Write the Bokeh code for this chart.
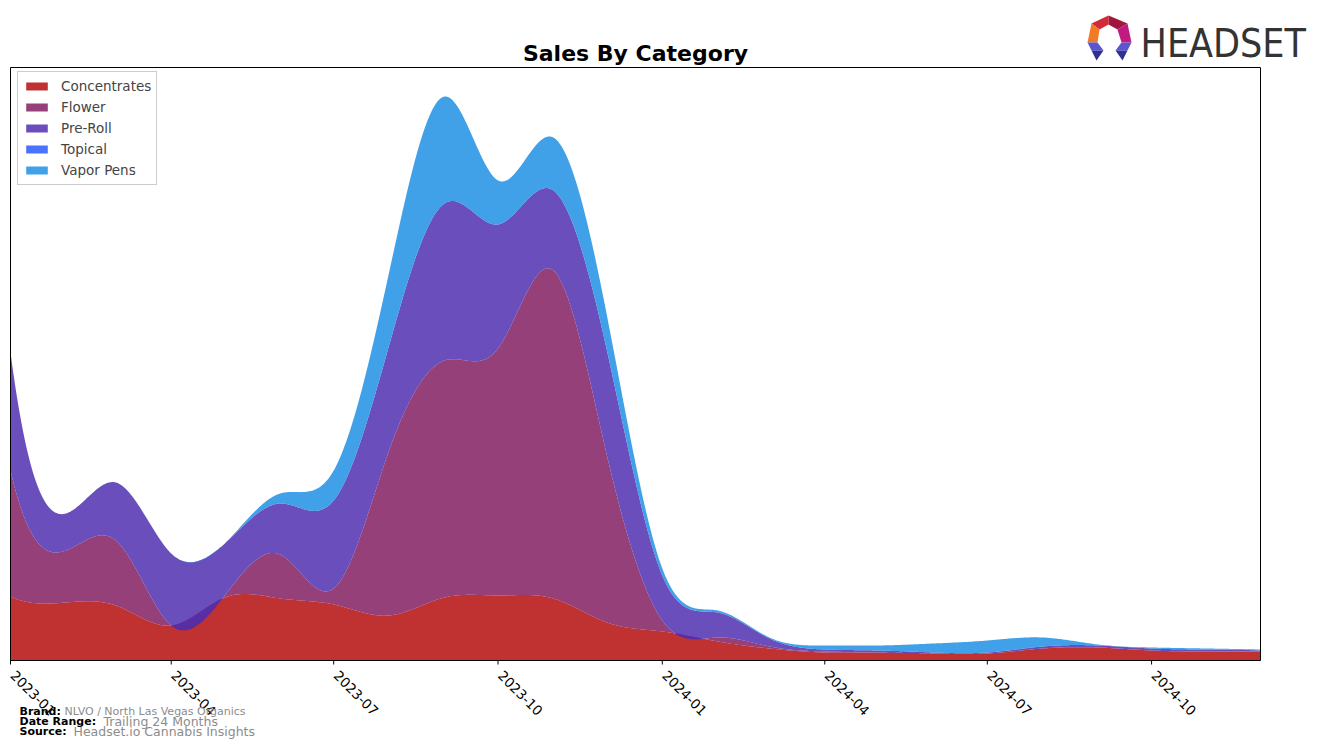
import numpy as np
import pandas as pd
from bokeh.plotting import figure
from bokeh.models import Range1d, Label, PolyAnnotation, Legend, BoxAnnotation, ColumnDataSource
from bokeh.core.properties import value
from bokeh.embed import file_html
from bokeh.resources import INLINE

# ---------------- data ----------------
months = ["2023-01", "2023-02", "2023-03", "2023-04", "2023-05", "2023-06",
          "2023-07", "2023-08", "2023-09", "2023-10", "2023-11", "2023-12",
          "2024-01", "2024-02", "2024-03", "2024-04", "2024-05", "2024-06",
          "2024-07", "2024-08", "2024-09", "2024-10", "2024-11", "2024-12"]
concentrates = [64, 58, 55, 35, 63, 62, 56, 45, 63, 65, 62, 38,
                29, 19, 12, 8, 8, 7, 7, 12, 13, 10, 9, 9]
flower = [126, 52, 65, 0, 2, 44, 16, 165, 237, 247, 328, 167,
          11, 4, 2, 1, 0, 0, 0, 0, 0, 0, 0, 0]
pre_roll = [118, 37, 58, 72, 52, 51, 88, 105, 157, 124, 80, 105,
            45, 25, 8, 2, 2, 1, 1, 2, 2, 2, 2, 1]
topical = [0, 0, 0, 0, 0, 0, 0, 0, 0, 0, 0, 0,
           0, 0, 0, 0, 0, 0, 0, 0, 0, 0, 0, 0]
vapor_pens = [0, 0, 0, 0, 0, 10, 30, 73, 107, 44, 53, 35,
              7, 2, 1, 4, 5, 9, 12, 9, 1, 1, 1, 1]
categories = ["Concentrates", "Flower", "Pre-Roll", "Topical", "Vapor Pens"]
series = [concentrates, flower, pre_roll, topical, vapor_pens]
tick_labels = ["2023-01", "2023-04", "2023-07", "2023-10",
               "2024-01", "2024-04", "2024-07", "2024-10"]

# ---------------- styles ----------------
fill_alpha = 0.85
observed = [(192, 50, 50), (150, 64, 120), (106, 78, 188), (74, 114, 252), (64, 160, 232)]


def base_color(rgb, a):
    return "#%02x%02x%02x" % tuple(int(round(max(0, min(255, (c - (1 - a) * 255) / a)))) for c in rgb)


colors = [base_color(c, fill_alpha) for c in observed]

W, H = 1324, 748
PL, PR, PT, PB = 10, 1260, 67, 660       # plot box on the canvas (pixels)
Y_TOP = 593                              # value shown at the top of the box
LBL_SHIFT = 5                            # label baseline correction (pixels)


def to_ms(s):
    return float((pd.Timestamp(s) - pd.Timestamp("1970-01-01")) // pd.Timedelta(milliseconds=1))


def spline_notaknot(x, y, xs):
    """Cubic spline (not-a-knot) through (x, y), evaluated at xs (used only for drawing)."""
    x = np.asarray(x, float)
    y = np.asarray(y, float)
    n = len(x)
    h = np.diff(x)
    A = np.zeros((n, n))
    b = np.zeros(n)
    A[0, 0], A[0, 1], A[0, 2] = -h[1], h[0] + h[1], -h[0]
    A[-1, -3], A[-1, -2], A[-1, -1] = -h[-1], h[-2] + h[-1], -h[-2]
    for i in range(1, n - 1):
        A[i, i - 1] = h[i - 1]
        A[i, i] = 2 * (h[i - 1] + h[i])
        A[i, i + 1] = h[i]
        b[i] = 6 * ((y[i + 1] - y[i]) / h[i] - (y[i] - y[i - 1]) / h[i - 1])
    M = np.linalg.solve(A, b)
    idx = np.clip(np.searchsorted(x, xs) - 1, 0, n - 2)
    x0, x1 = x[idx], x[idx + 1]
    hh = x1 - x0
    t0 = xs - x0
    t1 = x1 - xs
    return (M[idx] * t1 ** 3 / (6 * hh) + M[idx + 1] * t0 ** 3 / (6 * hh)
            + (y[idx] / hh - M[idx] * hh / 6) * t1 + (y[idx + 1] / hh - M[idx + 1] * hh / 6) * t0)


x_ms = np.array([to_ms(m) for m in months])
xs = np.linspace(x_ms[0], x_ms[-1], 900)
cum = np.cumsum(np.array(series, dtype=float), axis=0)
smooth = [spline_notaknot(x_ms, c, xs) for c in cum]

# ranges chosen so that the data box lands on the plot box of the canvas
x0, x1 = x_ms[0], x_ms[-1]
ms_per_px = (x1 - x0) / (PR - PL)
u_per_px = Y_TOP / (PB - PT)
x_range = Range1d(x0 - PL * ms_per_px, x1 + (W - PR) * ms_per_px)
y_range = Range1d(-(H - PB) * u_per_px, Y_TOP + PT * u_per_px)

p = figure(width=W, height=H, x_axis_location=None, y_axis_location=None,
           output_backend="svg", toolbar_location=None,
           x_range=x_range, y_range=y_range, min_border=0)
p.xgrid.visible = False
p.ygrid.visible = False
p.outline_line_color = None
p.background_fill_color = "white"
p.border_fill_color = "white"

items = []
prev = np.zeros_like(xs)
for name, col, sm in zip(categories, colors, smooth):
    r = p.varea(x=xs, y1=prev, y2=sm, fill_color=col, fill_alpha=fill_alpha)
    items.append((name, [r]))
    prev = sm

# plot box (spines)
p.add_layout(BoxAnnotation(left=x0, right=x1, bottom=0, top=Y_TOP, fill_color=None,
                           line_color="black", line_width=1, line_alpha=1))

# x-axis ticks and rotated tick labels
tick_ms = [to_ms(t) for t in tick_labels]
tsrc = ColumnDataSource(dict(x=tick_ms, y0=[0] * len(tick_ms),
                             y1=[-4 * u_per_px] * len(tick_ms), text=tick_labels))
p.segment(x0="x", y0="y0", x1="x", y1="y1", source=tsrc, line_color="black", line_width=1)
p.text(x="x", y="y0", text="text", source=tsrc, angle=-np.pi / 4,
       text_align="left", text_baseline="top", x_offset=6, y_offset=9,
       text_font=value("DejaVu Sans"), text_font_size="13.5px", text_color="black")

legend = Legend(items=items, location=(17, H - 185), padding=5,
                spacing=3, glyph_width=27, glyph_height=10, label_height=18,
                label_standoff=11, label_text_font="DejaVu Sans", label_text_font_size="13.5px",
                border_line_color="#cccccc", border_line_alpha=1, background_fill_alpha=0.8)
p.add_layout(legend, "center")


def add_label(text, cx, cy, size, color="black", bold=False, align="left", font="DejaVu Sans"):
    p.add_layout(Label(x=cx, y=H - cy + LBL_SHIFT, x_units="screen", y_units="screen", text=text,
                       text_font=font, text_font_size=size, text_color=color,
                       text_font_style="bold" if bold else "normal",
                       text_align=align, text_baseline="alphabetic"))


add_label("Sales By Category", 635, 58, "22px", bold=True, align="center")

add_label("Brand:", 19, 716, "11px", bold=True)
add_label("NLVO / North Las Vegas Organics", 64, 716, "11px", color="#8c8c8c")
add_label("Date Range:", 19, 726, "11px", bold=True)
add_label("Trailing 24 Months", 103, 726, "12.5px", color="#8c8c8c")
add_label("Source:", 19, 736, "11px", bold=True)
add_label("Headset.io Cannabis Insights", 73, 736, "12.5px", color="#8c8c8c")

# logo
add_label("HEADSET", 1140, 48, "39px", color="#333333",
          font="Liberation Sans Narrow, DejaVu Sans Condensed, sans-serif")
facets = [
    ([(1091, 23), (1108, 15), (1108, 24), (1099, 29)], "#d42a35"),
    ([(1108, 15), (1127, 23), (1117, 29), (1108, 24)], "#a3163c"),
    ([(1091, 23), (1099, 29), (1097, 42), (1087, 42)], "#f27a22"),
    ([(1127, 23), (1131, 42), (1121, 42), (1117, 29)], "#c21a80"),
    ([(1087, 42), (1097, 42), (1103, 50), (1091, 50)], "#5b55d6"),
    ([(1091, 50), (1103, 50), (1096, 60)], "#2e3192"),
    ([(1131, 42), (1121, 42), (1115, 50), (1127, 50)], "#5b55d6"),
    ([(1127, 50), (1115, 50), (1122, 60)], "#2e3192"),
]
for pts, col in facets:
    p.add_layout(PolyAnnotation(xs=[a for a, _ in pts], ys=[H - b for _, b in pts],
                                xs_units="screen", ys_units="screen",
                                fill_color=col, fill_alpha=1, line_color=None))

open("out.html", "w").write(file_html(p, INLINE))
